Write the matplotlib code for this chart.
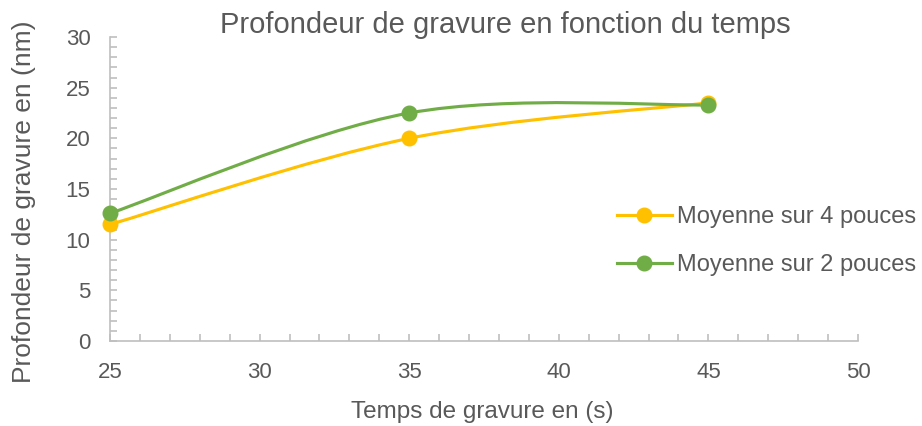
import matplotlib
matplotlib.use("Agg")
import matplotlib.pyplot as plt
import numpy as np
from matplotlib.path import Path
from matplotlib.patches import PathPatch
from matplotlib.lines import Line2D
from matplotlib.ticker import MultipleLocator

plt.rcParams['font.family'] = ['Liberation Sans', 'DejaVu Sans']

temps = [25, 35, 45]
moy_4_pouces = [11.5, 20.0, 23.5]
moy_2_pouces = [12.6, 22.5, 23.3]
labels = ["Moyenne sur 4 pouces", "Moyenne sur 2 pouces"]
colors = ["#FFC000", "#70AD47"]

TXT = "#595959"
AX = "#BFBFBF"

fig = plt.figure(figsize=(9.22, 4.26), dpi=100)
ax = fig.add_axes([110/922, 1-341/426, (858-110)/922, (341-37)/426])


def smooth_path(xs, ys):
    """Excel-style smoothed line: cubic Bezier segments (Catmull-Rom, 1/6 tangents)."""
    pts = np.column_stack([xs, ys]).astype(float)
    n = len(pts)
    verts = [pts[0]]
    codes = [Path.MOVETO]
    for i in range(n - 1):
        p0 = pts[i - 1] if i > 0 else pts[i]
        p1 = pts[i]
        p2 = pts[i + 1]
        p3 = pts[i + 2] if i + 2 < n else pts[i + 1]
        c1 = p1 + (p2 - p0) / 6.0
        c2 = p2 - (p3 - p1) / 6.0
        verts += [c1, c2, p2]
        codes += [Path.CURVE4] * 3
    return Path(verts, codes)


handles = []
for ys, lab, col in zip([moy_4_pouces, moy_2_pouces], labels, colors):
    ax.add_patch(PathPatch(smooth_path(temps, ys), facecolor="none",
                           edgecolor=col, lw=2.25, capstyle="round",
                           zorder=3, clip_on=False))
    ax.plot(temps, ys, ls="none", marker="o", ms=10.5, color=col,
            zorder=4, clip_on=False)
    handles.append(Line2D([], [], color=col, lw=2.25, marker="o", ms=10.5))

ax.set_xlim(25, 50)
ax.set_ylim(0, 30)
ax.xaxis.set_major_locator(MultipleLocator(5))
ax.xaxis.set_minor_locator(MultipleLocator(1))
ax.yaxis.set_major_locator(MultipleLocator(5))
ax.yaxis.set_minor_locator(MultipleLocator(1))

for s in ["top", "right"]:
    ax.spines[s].set_visible(False)
for s in ["left", "bottom"]:
    ax.spines[s].set_color(AX)
    ax.spines[s].set_linewidth(1.2)

ax.tick_params(which="both", direction="in", color=AX, width=1.2, length=5,
               labelsize=16, labelcolor=TXT)
ax.tick_params(axis="x", pad=15)
ax.tick_params(axis="y", pad=14)

fig.text(505/922, 1-25/426, "Profondeur de gravure en fonction du temps",
         ha="center", va="center", fontsize=21, color=TXT)
fig.text(482/922, 1-412/426, "Temps de gravure en (s)",
         ha="center", va="center", fontsize=17.5, color=TXT)
fig.text(24/922, 1-202/426, "Profondeur de gravure en (nm)",
         ha="center", va="center", rotation=90, fontsize=19, color=TXT)

fig.legend(handles, labels, loc="center left",
           bbox_to_anchor=(596/922, 1-241/426), frameon=False,
           fontsize=17, labelcolor=TXT, handlelength=2.3, handletextpad=0.25,
           labelspacing=1.1)

fig.savefig("out.png", dpi=100)
